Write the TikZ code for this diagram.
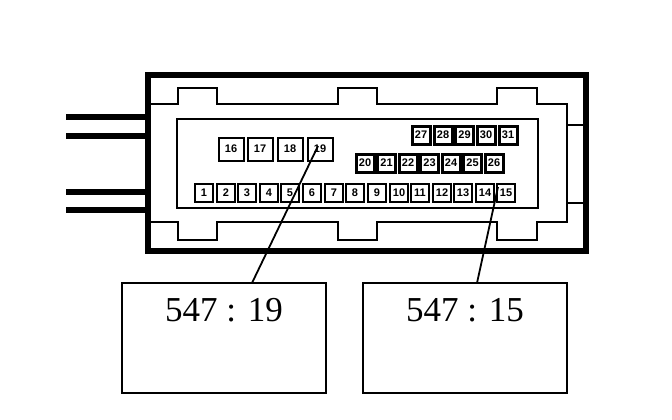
\documentclass[tikz,border=0pt]{standalone}
\usepackage{fontspec}
\setmainfont{Liberation Serif}
\newfontfamily\pinfont{Liberation Sans}
\tikzset{
  wire/.style={line width=5.5pt,black},
  shell/.style={line width=1.8pt,black,line join=miter},
  housing/.style={draw,line width=5.5pt,inner sep=0pt,minimum width=438pt,minimum height=176pt},
  cavity/.style={draw,line width=1.8pt,inner sep=0pt,minimum width=361pt,minimum height=89pt},
  pin/.style={draw,line width=2pt,fill=white,inner sep=0pt,minimum width=18pt,minimum height=18pt,font=\pinfont\bfseries\fontsize{11}{11}\selectfont},
  bigpin/.style={pin,minimum width=25pt,minimum height=23pt},
  heavypin/.style={pin,line width=3pt},
  callout/.style={draw,line width=1.8pt,inner sep=0pt,minimum width=204pt,minimum height=110pt},
  calltext/.style={font=\fontsize{35}{35}\selectfont,inner sep=0pt,anchor=base},
  leader/.style={line width=1.8pt,black}
}
\begin{document}
\begin{tikzpicture}[x=1pt,y=-1pt]
\useasboundingbox (0,0) rectangle (672,420);
\node[housing] (outer) at (367,163) {};
% shell outline
\draw[shell] (150,104) -- (178,104) -- (178,88) -- (217,88) -- (217,104) -- (338,104) -- (338,88) -- (377,88) -- (377,104) -- (497,104) -- (497,88) -- (537,88) -- (537,104) -- (567,104) -- (567,222) -- (537,222) -- (537,240) -- (497,240) -- (497,222) -- (377,222) -- (377,240) -- (338,240) -- (338,222) -- (217,222) -- (217,240) -- (178,240) -- (178,222) -- (150,222);
\draw[shell] (567,125) -- (585,125);
\draw[shell] (567,203) -- (585,203);
\node[cavity] (cav) at (357.5,163.5) {};
% wires
\foreach \n/\y in {a/117,b/136,c/192,d/210}{
  \coordinate (w\n) at (66,\y);
  \draw[wire] (w\n) -- (w\n -| outer.west);
}
% pins
\foreach \n/\x in {16/231,17/260,18/290,19/320}
  \node[bigpin] (p\n) at (\x,149) {\n};
\foreach \n/\x in {1/204,2/226,3/247,4/269,5/290,6/312,7/334,8/355,9/377,10/399,11/420,12/442,13/463,14/485,15/506}
  \node[pin] (p\n) at (\x,192.5) {\n};
\foreach \n/\x in {20/365,21/386.5,22/408,23/429.5,24/451,25/472.5,26/494}
  \node[heavypin] (p\n) at (\x,163) {\n};
\foreach \n/\x in {27/421,28/443,29/464.5,30/486,31/508}
  \node[heavypin] (p\n) at (\x,135) {\n};
% callouts
\node[callout] (b1) at (224,338) {};
\node[callout] (b2) at (465,338) {};
\node[calltext] (t1) at (224,321) {547 : 19};
\node[calltext] (t2) at (465,321) {547 : 15};
\coordinate (e1) at (252,283);
\coordinate (e2) at (477,283);
\coordinate (s1) at (318,146);
\coordinate (s2) at (498,187);
\draw[leader] (s1) -- (e1);
\draw[leader] (s2) -- (e2);
\end{tikzpicture}
\end{document}
